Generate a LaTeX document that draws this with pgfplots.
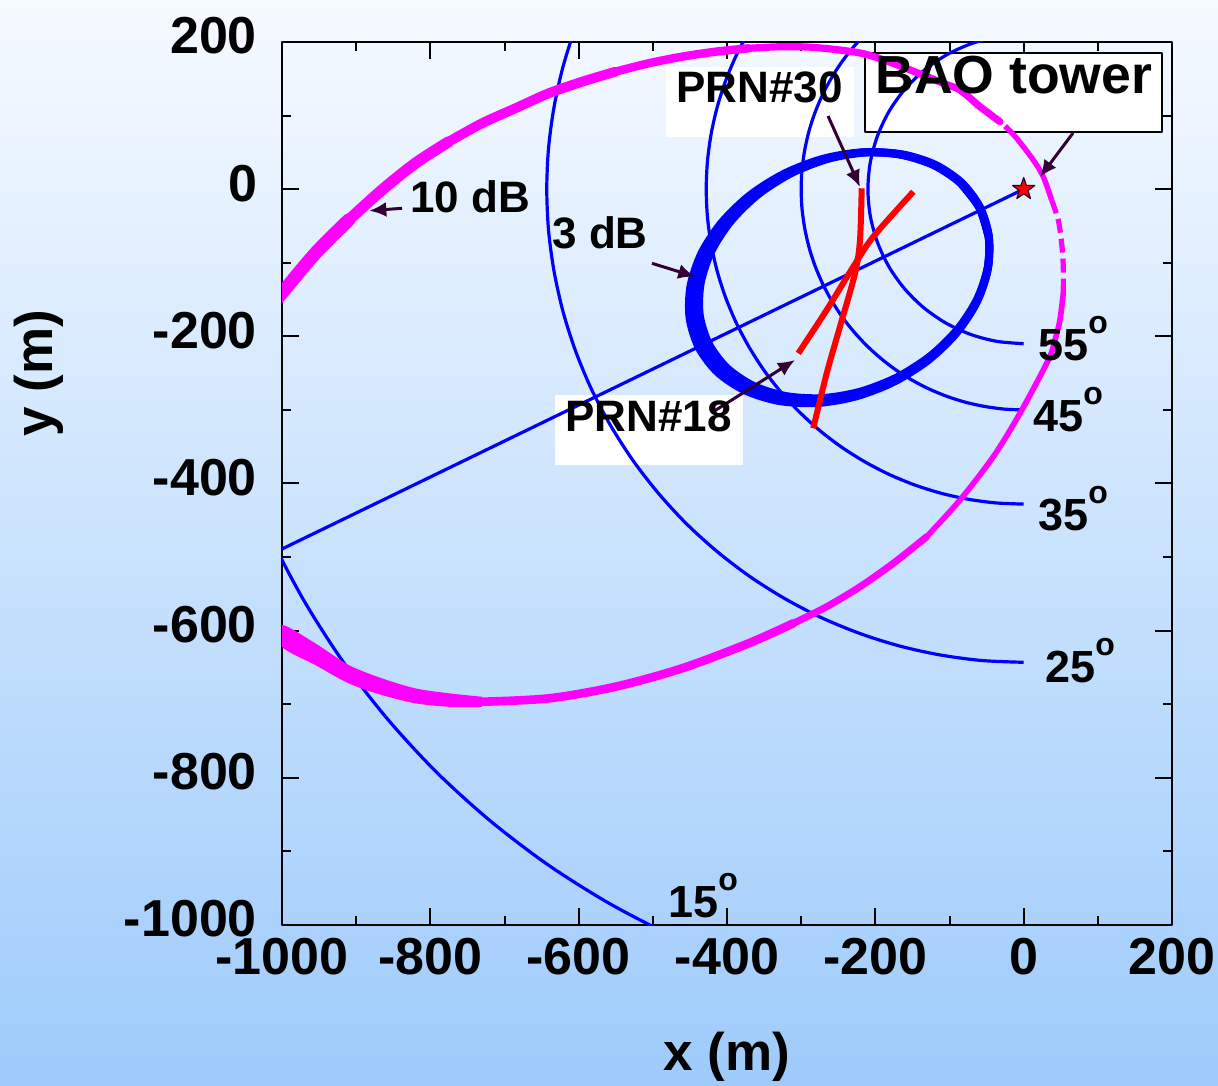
\documentclass[border=0pt]{standalone}
\usepackage{fontspec}
\setmainfont{Liberation Sans}
\usepackage{pgfplots}
\pgfplotsset{compat=1.18}
\usetikzlibrary{arrows.meta}
\definecolor{bgtop}{RGB}{246,250,255}
\definecolor{bgbot}{RGB}{158,203,251}
\definecolor{arrowc}{RGB}{51,0,51}
\definecolor{mag}{RGB}{255,0,255}
\definecolor{pblue}{RGB}{0,0,255}
\definecolor{pred}{RGB}{255,0,0}
\pgfdeclareplotmark{fstar}{%
 \pgfpathmoveto{\pgfpointpolar{90}{\pgfplotmarksize}}%
 \pgfpathlineto{\pgfpointpolar{126}{0.4\pgfplotmarksize}}%
 \pgfpathlineto{\pgfpointpolar{162}{\pgfplotmarksize}}%
 \pgfpathlineto{\pgfpointpolar{198}{0.4\pgfplotmarksize}}%
 \pgfpathlineto{\pgfpointpolar{234}{\pgfplotmarksize}}%
 \pgfpathlineto{\pgfpointpolar{270}{0.4\pgfplotmarksize}}%
 \pgfpathlineto{\pgfpointpolar{306}{\pgfplotmarksize}}%
 \pgfpathlineto{\pgfpointpolar{342}{0.4\pgfplotmarksize}}%
 \pgfpathlineto{\pgfpointpolar{18}{\pgfplotmarksize}}%
 \pgfpathlineto{\pgfpointpolar{54}{0.4\pgfplotmarksize}}%
 \pgfpathclose
 \pgfusepathqfillstroke}
\newcommand{\degl}[1]{#1\raisebox{13.5pt}{\fontsize{16}{16}\selectfont o}}
\begin{document}
\begin{tikzpicture}
\useasboundingbox (-141pt,-80pt) rectangle (468pt,462.5pt);
\shade[top color=bgtop, bottom color=bgbot] (-141pt,-80pt) rectangle (468pt,462.5pt);
\begin{axis}[
 at={(0pt,0pt)}, anchor=south west,
 scale only axis, width=445pt, height=441.5pt,
 xmin=-1000, xmax=200, ymin=-1000, ymax=200,
 xtick={-1000,-800,-600,-400,-200,0,200},
 ytick={-1000,-800,-600,-400,-200,0,200},
 minor x tick num=1, minor y tick num=1,
 tick align=inside,
 major tick length=8.5pt, minor tick length=4.5pt,
 tick style={black, line width=1pt},
 axis line style={black, line width=1.35pt},
 /pgf/number format/assume math mode=true,
 /pgf/number format/1000 sep={},
 tick label style={font=\fontsize{26}{30}\selectfont\bfseries},
 yticklabel style={xshift=-9pt, yshift=3pt},
 xticklabel style={yshift=-3pt},
 xlabel={x (m)}, ylabel={y (m)},
 label style={font=\fontsize{26.5}{30}\selectfont\bfseries},
 xlabel style={at={(axis description cs:0.5,-0.1495)}, anchor=center},
 ylabel style={at={(axis description cs:-0.273,0.625)}, anchor=center},
 clip mode=individual,
 line join=round,
]
% white label boxes (behind curves)
\fill[white] (axis cs:-482.3,166) rectangle (axis cs:-228.8,70.9);
\filldraw[fill=white, draw=black, line width=0.6pt] (axis cs:-214,185.1) rectangle (axis cs:186.5,77.7);
\fill[white] (axis cs:-631.9,-279.7) rectangle (axis cs:-378.5,-374.9);

% elevation contours
\addplot[pblue, line width=1.6pt, smooth] coordinates {(-1052.5,-383.0) (-1015.1,-473.3) (-969.9,-560) (-917.5,-642.4) (-857.9,-719.9) (-792,-792) (-719.9,-857.9) (-642.4,-917.5) (-560,-969.9) (-473.3,-1015.1) (-383,-1052.5)};
\addplot[pblue, line width=1.6pt, smooth] coordinates {(-582.8,271.7) (-604.2,219.9) (-621.1,166.4) (-633.2,111.6) (-640.6,56.1) (-643,0) (-640.6,-56.1) (-633.2,-111.6) (-621.1,-166.4) (-604.2,-219.9) (-582.8,-271.7) (-556.8,-321.5) (-526.7,-368.8) (-492.5,-413.3) (-454.7,-454.7) (-413.3,-492.5) (-368.8,-526.7) (-321.5,-556.8) (-271.7,-582.8) (-219.9,-604.2) (-166.4,-621.1) (-111.6,-633.2) (-56.1,-640.6) (0,-643)};
\addplot[pblue, line width=1.6pt, smooth] coordinates {(-350.6,245.5) (-370.6,214) (-387.9,180.9) (-402.2,146.4) (-413.4,110.8) (-421.5,74.3) (-426.4,37.3) (-428,0) (-426.4,-37.3) (-421.5,-74.3) (-413.4,-110.8) (-402.2,-146.4) (-387.9,-180.9) (-370.6,-214) (-350.6,-245.5) (-327.9,-275.1) (-302.6,-302.6) (-275.1,-327.9) (-245.5,-350.6) (-214,-370.6) (-180.9,-387.9) (-146.4,-402.2) (-110.8,-413.4) (-74.3,-421.5) (-37.3,-426.4) (0,-428)};
\addplot[pblue, line width=1.6pt, smooth] coordinates {(-192.8,229.8) (-212.1,212.1) (-229.8,192.8) (-245.8,172.1) (-259.8,150) (-271.9,126.8) (-281.9,102.6) (-289.8,77.6) (-295.4,52.1) (-298.9,26.2) (-300,0) (-298.9,-26.2) (-295.4,-52.1) (-289.8,-77.6) (-281.9,-102.6) (-271.9,-126.8) (-259.8,-150) (-245.8,-172.1) (-229.8,-192.8) (-212.1,-212.1) (-192.8,-229.8) (-172.1,-245.8) (-150,-259.8) (-126.8,-271.9) (-102.6,-281.9) (-77.6,-289.8) (-52.1,-295.4) (-26.2,-298.9) (0,-300)};
\addplot[pblue, line width=1.6pt, smooth] coordinates {(0,210) (-36.5,206.8) (-71.8,197.3) (-105,181.9) (-135,160.9) (-160.9,135) (-181.9,105) (-197.3,71.8) (-206.8,36.5) (-210,0) (-206.8,-36.5) (-197.3,-71.8) (-181.9,-105) (-160.9,-135) (-135,-160.9) (-105,-181.9) (-71.8,-197.3) (-36.5,-206.8) (0,-210)};
% azimuth line
\addplot[pblue, line width=1.6pt] coordinates {(-1000,-489) (0,0)};

% 3 dB contour (thick ellipse)
\addplot[pblue, line width=4pt, smooth] coordinates {(-47.2,-65.4) (-59.7,-25.4) (-85.1,8.1) (-121.7,32.8) (-166.9,47.0) (-217.8,50.0) (-270.7,41.2) (-322.1,21.4) (-368.6,-7.9) (-406.9,-45.1) (-434.4,-87.2) (-449.2,-131.7) (-450.4,-175.3) (-437.9,-215.3) (-412.6,-248.8) (-375.9,-273.4) (-330.7,-287.7) (-279.9,-290.7) (-227.0,-281.9) (-175.5,-262.1) (-129.1,-232.7) (-90.8,-195.6) (-63.2,-153.5) (-48.4,-109.0) (-47.2,-65.4) (-59.7,-25.4) (-85.1,8.1)};
\addplot[pblue, line width=4pt, smooth] coordinates {(-47.2,-64.3) (-59.5,-24.7) (-84.5,8.5) (-120.5,33.0) (-164.9,47.1) (-214.9,50.0) (-266.9,41.3) (-317.5,21.7) (-363.2,-7.4) (-400.8,-44.2) (-427.9,-85.9) (-442.4,-129.9) (-443.6,-173.1) (-431.3,-212.7) (-406.4,-245.9) (-370.4,-270.3) (-325.9,-284.4) (-276.0,-287.4) (-224.0,-278.7) (-173.4,-259.1) (-127.7,-230.0) (-90.1,-193.2) (-63.0,-151.5) (-48.4,-107.5) (-47.2,-64.3) (-59.5,-24.7) (-84.5,8.5)};
\addplot[pblue, line width=4pt, smooth] coordinates {(-47.2,-63.1) (-59.3,-23.9) (-83.8,8.9) (-119.2,33.1) (-162.9,47.1) (-212.0,50.0) (-263.1,41.4) (-312.8,22.0) (-357.7,-6.8) (-394.7,-43.2) (-421.3,-84.5) (-435.6,-128.1) (-436.8,-170.9) (-424.7,-210.1) (-400.2,-242.9) (-364.8,-267.1) (-321.1,-281.1) (-272.0,-284.0) (-220.9,-275.4) (-171.2,-256.0) (-126.3,-227.2) (-89.3,-190.8) (-62.7,-149.5) (-48.4,-105.9) (-47.2,-63.1) (-59.3,-23.9) (-83.8,8.9)};

% 10 dB contour (magenta)
\addplot[mag, line width=6.6pt, smooth, line cap=round] coordinates {(-1020,-165) (-1000,-141.1) (-955.1,-87.2) (-910.1,-41.9)};
\addplot[mag, line width=5.6pt, smooth, line cap=round] coordinates {(-910.1,-41.9) (-865.2,-1.1) (-820.3,35.1) (-775.2,64.5)};
\addplot[mag, line width=4.9pt, smooth, line cap=round] coordinates {(-775.2,64.5) (-730.4,89.5) (-685.4,109.9) (-640.4,130.3) (-595.5,146) (-550.6,159.6)};
\addplot[mag, line width=4.2pt, smooth, line cap=round] coordinates {(-550.6,159.6) (-505.6,171.1) (-460.7,180) (-415.8,186.8) (-370.8,191.4)};
\addplot[mag, line width=3.6pt, smooth, line cap=round] coordinates {(-370.8,191.4) (-325.9,193.6) (-281.4,192.5) (-220.7,185.1) (-176.2,171.1) (-108.4,143.9) (-85.9,134.8) (-58.9,112.1) (-32,91.7)};
\addplot[mag, line width=2.7pt, smooth] coordinates {(-25.2,85.8) (-9.4,69.1) (13,39.6) (26.4,16.9) (37.7,-14.7)};
\addplot[mag, line width=2.6pt, smooth, dash pattern=on 7pt off 3pt] coordinates {(37.7,-14.7) (46.6,-41.9) (51.2,-73.6) (53.4,-105.4) (53.4,-141.5)};
\addplot[mag, line width=2.8pt, smooth, line cap=round] coordinates {(53.4,-141.5) (48.9,-177.8) (42.2,-205) (33.2,-232.2) (-5,-304.6) (-41,-363.6) (-85.9,-422.5) (-130.8,-472.3)};
\addplot[mag, line width=3.5pt, smooth, line cap=round] coordinates {(-130.8,-472.3) (-175.8,-508.5) (-220.7,-540.3) (-265.6,-567.4) (-310.6,-590)};
\addplot[mag, line width=4.3pt, smooth, line cap=round] coordinates {(-310.6,-590) (-370.8,-617.2) (-460.7,-651.2) (-550.6,-676.2) (-640.4,-692) (-730.4,-696.6)};
\addplot[mag, fill=mag, draw=none, smooth] coordinates {(-730.4,-689.8) (-775.2,-685.1) (-820.3,-678.4) (-865.2,-664.8) (-910.1,-646.7) (-955.1,-617.2) (-1000,-592.3) (-1000,-621.8) (-955.1,-646.7) (-910.1,-671.6) (-865.2,-687.5) (-820.3,-698.7) (-775.2,-703.4) (-730.4,-703.4)};

% satellite tracks
\addplot[pred, line width=3pt, smooth] coordinates {(-218.4,1.2) (-220.7,-69.1) (-227.4,-114.4) (-247.7,-186.9) (-265.6,-250.3) (-283.7,-325)};
\addplot[pred, line width=3pt, smooth] coordinates {(-148.8,-3.5) (-202.8,-64.6) (-229.7,-105.4) (-265.6,-164.2) (-303.9,-223.1)};

% tower
\addplot[only marks, mark=fstar, mark size=5.8pt, mark options={fill=pred, draw=arrowc, line width=0.6pt}] coordinates {(0,0)};

% arrows
\draw[arrowc, line width=1.5pt, -{Latex[length=8.5pt,width=7.5pt]}] (axis cs:-263.8,99.4) -- (axis cs:-220.7,2.9);
\draw[arrowc, line width=1.5pt, -{Latex[length=8.5pt,width=7.5pt]}] (axis cs:66.5,76.3) -- (axis cs:22,16.5);
\draw[arrowc, line width=1.5pt, -{Latex[length=8.5pt,width=7.5pt]}] (axis cs:-838.2,-26) -- (axis cs:-882.3,-29.3);
\draw[arrowc, line width=1.5pt, -{Latex[length=8.5pt,width=7.5pt]}] (axis cs:-501.1,-100.8) -- (axis cs:-442.8,-119);
\draw[arrowc, line width=1.5pt, -{Latex[length=8.5pt,width=7.5pt]}] (axis cs:-418.5,-302.4) -- (axis cs:-308.3,-232.2);

% labels
\node[anchor=base west, inner sep=0pt, font=\fontsize{22}{26}\selectfont\bfseries] at (axis cs:-827.4,-32.4) {10 dB};
\node[anchor=base west, inner sep=0pt, font=\fontsize{22}{26}\selectfont\bfseries] at (axis cs:-636,-81.3) {3 dB};
\node[anchor=base west, inner sep=0pt, font=\fontsize{22}{26}\selectfont\bfseries] at (axis cs:-468.8,117.1) {PRN\#30};
\node[anchor=base west, inner sep=0pt, font=\fontsize{22}{26}\selectfont\bfseries] at (axis cs:-618.4,-330) {PRN\#18};
\node[anchor=base west, inner sep=0pt, font=\fontsize{26.8}{30}\selectfont\bfseries] at (axis cs:-200.5,130) {BAO tower};
\node[anchor=base west, inner sep=0pt, font=\fontsize{22.5}{26}\selectfont\bfseries] at (axis cs:19.3,-232.2) {\degl{55}};
\node[anchor=base west, inner sep=0pt, font=\fontsize{22.5}{26}\selectfont\bfseries] at (axis cs:12.5,-330) {\degl{45}};
\node[anchor=base west, inner sep=0pt, font=\fontsize{22.5}{26}\selectfont\bfseries] at (axis cs:19.3,-463.2) {\degl{35}};
\node[anchor=base west, inner sep=0pt, font=\fontsize{22.5}{26}\selectfont\bfseries] at (axis cs:28.7,-669.8) {\degl{25}};
\node[anchor=base west, inner sep=0pt, font=\fontsize{22.5}{26}\selectfont\bfseries] at (axis cs:-479.6,-989.2) {\degl{15}};
\end{axis}
\end{tikzpicture}
\end{document}
